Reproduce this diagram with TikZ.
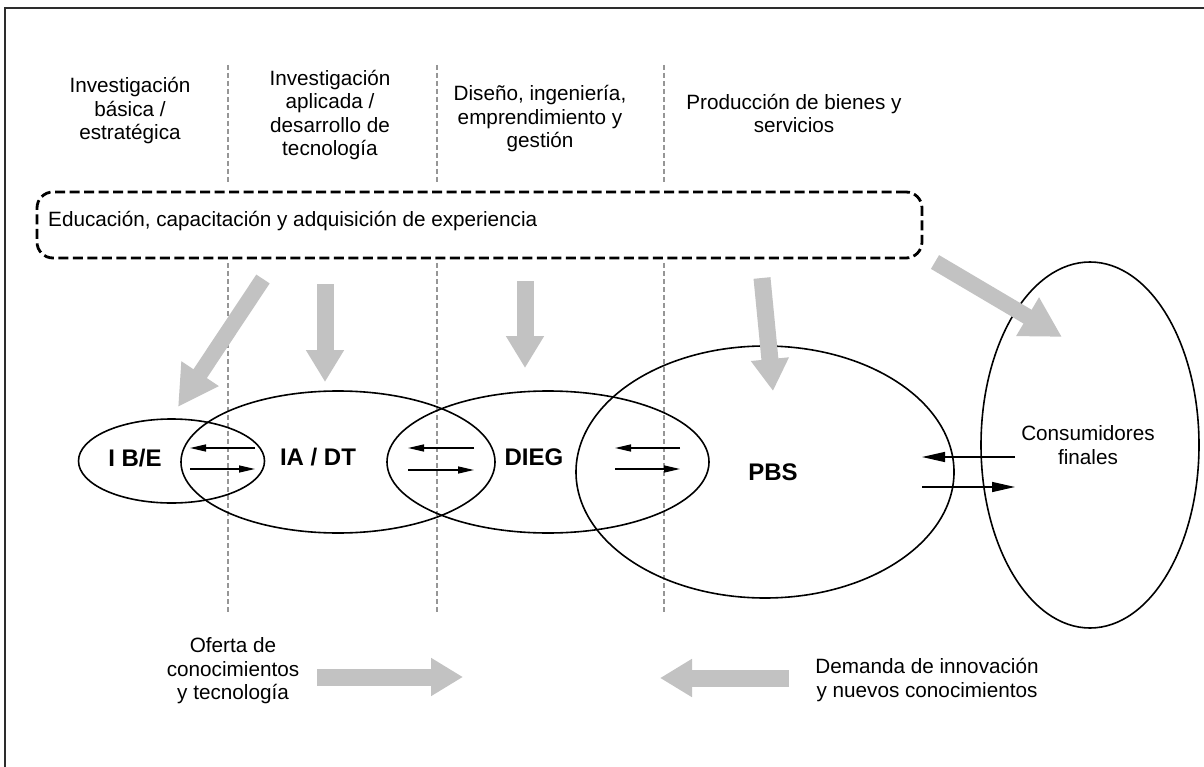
\documentclass[tikz,border=0pt]{standalone}
\usepackage{fontspec}
\setmainfont{Liberation Sans}
\usetikzlibrary{shapes.geometric,arrows.meta}
\definecolor{flowgray}{RGB}{194,194,194}
\definecolor{guidegray}{RGB}{150,150,150}
\definecolor{framegray}{RGB}{45,45,45}
\begin{document}
\begin{tikzpicture}[x=1pt,y=-1pt,
  txt/.style={font=\fontsize{20.7}{23.5}\selectfont, align=center, inner sep=0pt},
  tag/.style={font=\fontsize{24}{28}\selectfont\bfseries, inner sep=0pt},
  guide/.style={draw=guidegray, line width=2.2pt, dash pattern=on 5pt off 3pt},
  sphere/.style={ellipse, draw=black, line width=1.6pt, inner sep=0pt},
  bigflow/.style={draw=flowgray, line width=17pt, -{Triangle[length=32pt,width=36pt]}},
  slantflow/.style={draw=flowgray, line width=16pt, -{Triangle[length=40pt,width=42pt]}},
  swap/.style={draw=black, line width=1.4pt, -{Triangle[length=16pt,width=7pt]}},
  swapbig/.style={draw=black, line width=1.4pt, -{Triangle[length=23pt,width=10pt]}}
]
\useasboundingbox (0,0) rectangle (1204,767);
\fill[white] (0,0) rectangle (1204,767);

% outer frame
\draw[framegray, line width=2pt] (5,767) -- (5,8) -- (1204,8);

% stage headers
\node[txt] (hIB) at (130,111) {Investigación\\básica /\\estratégica};
\node[txt] (hIA) at (330,115) {Investigación\\aplicada /\\desarrollo de\\tecnología};
\node[txt] (hDI) at (540,119) {Diseño, ingeniería,\\emprendimiento y\\gestión};
\node[txt] (hPB) at (794,113.5) {Producción de bienes y\\servicios};

% stage separators
\foreach \gx in {228,437,664}{
  \draw[guide] (\gx,65) -- (\gx,183);
  \draw[guide] (\gx,263) -- (\gx,612);
}

% education band
\node[draw=black, line width=2.8pt, dash pattern=on 10pt off 4.5pt, rounded corners=16pt,
      minimum width=885pt, minimum height=66pt, inner sep=0pt] (edu) at (479.5,225) {};
\node[txt, anchor=west] (eduT) at (48,221) {Educación, capacitación y adquisición de experiencia};

% actors
\node[sphere, minimum width=186pt, minimum height=84pt] (IBE) at (171.5,461) {};
\node[sphere, minimum width=314pt, minimum height=142pt] (IADT) at (338,462) {};
\node[sphere, minimum width=322pt, minimum height=142pt] (DIEG) at (548,462) {};
\node[sphere, minimum width=378pt, minimum height=252pt] (PBS) at (765,472) {};
\node[sphere, minimum width=218pt, minimum height=366pt] (CF) at (1090,445) {};

\node[tag] (tIBE) at (135,458) {I B/E};
\node[tag] (tIADT) at (318,457) {IA / DT};
\node[tag] (tDIEG) at (534,457) {DIEG};
\node[tag] (tPBS) at (773,472) {PBS};
\node[txt] (tCF) at (1088,445) {Consumidores\\finales};

% education feeding each actor
\coordinate (e1) at (263,279); \coordinate (f1) at (178,407);
\coordinate (e2) at (325,284); \coordinate (f2) at (325,382);
\coordinate (e3) at (525,281); \coordinate (f3) at (525,368);
\coordinate (e4) at (762,278); \coordinate (f4) at (773,391);
\coordinate (e5) at (935,262); \coordinate (f5) at (1062,337);
\draw[slantflow] (e1) -- (f1);
\draw[bigflow] (e2) -- (f2);
\draw[bigflow] (e3) -- (f3);
\draw[bigflow] (e4) -- (f4);
\draw[slantflow] (e5) -- (f5);

% exchanges between neighbouring actors
\coordinate (a1r) at (255,448); \coordinate (a1l) at (190,448);
\coordinate (b1l) at (190,469); \coordinate (b1r) at (255,469);
\coordinate (a2r) at (474,448); \coordinate (a2l) at (408,448);
\coordinate (b2l) at (408,470); \coordinate (b2r) at (474,470);
\coordinate (a3r) at (680,448); \coordinate (a3l) at (615,448);
\coordinate (b3l) at (615,469); \coordinate (b3r) at (680,469);
\coordinate (a4r) at (1015,457); \coordinate (a4l) at (922,457);
\coordinate (b4l) at (922,487); \coordinate (b4r) at (1015,487);
\draw[swap] (a1r) -- (a1l);  \draw[swap] (b1l) -- (b1r);
\draw[swap] (a2r) -- (a2l);  \draw[swap] (b2l) -- (b2r);
\draw[swap] (a3r) -- (a3l);  \draw[swap] (b3l) -- (b3r);
\draw[swapbig] (a4r) -- (a4l);  \draw[swapbig] (b4l) -- (b4r);

% supply and demand
\node[txt] (sup) at (233,671) {Oferta de\\conocimientos\\y tecnología};
\node[txt] (dem) at (927,680) {Demanda de innovación\\y nuevos conocimientos};
\coordinate (s0) at (317,677); \coordinate (s1) at (463,677);
\coordinate (d0) at (789,678); \coordinate (d1) at (660,678);
\draw[bigflow] (s0) -- (s1);
\draw[bigflow] (d0) -- (d1);
\end{tikzpicture}
\end{document}
